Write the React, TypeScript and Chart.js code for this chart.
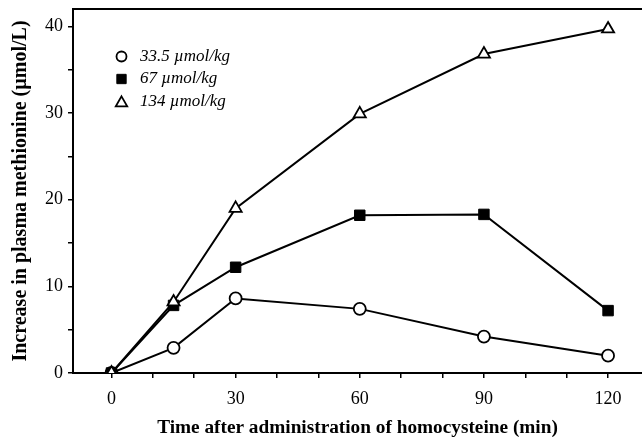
import React, { useEffect, useRef } from "react";
import { Chart, registerables } from "chart.js";
import { drawPoint } from "chart.js/helpers";

Chart.register(...registerables);

const timePoints = [0, 15, 30, 60, 90, 120];
const dose335 = [0, 2.9, 8.6, 7.4, 4.2, 2.0];
const dose67 = [0, 7.8, 12.2, 18.2, 18.3, 7.2];
const dose134 = [0, 8.2, 19.0, 29.9, 36.8, 39.7];
const seriesLabels = ["33.5 \u00b5mol/kg", "67 \u00b5mol/kg", "134 \u00b5mol/kg"];
const xTickValues = [0, 10, 20, 30, 40, 50, 60, 70, 80, 90, 100, 110, 120];
const xLabeledTicks = [0, 30, 60, 90, 120];
const yTickValues = [0, 5, 10, 15, 20, 25, 30, 35, 40];
const yLabeledTicks = [0, 10, 20, 30, 40];

const FONT = "'Liberation Serif', 'Times New Roman', serif";

const legendPlugin = {
  id: "insideLegend",
  afterDatasetsDraw(chart: any) {
    const { ctx, chartArea } = chart;
    const x0 = chartArea.left + 48.5;
    const y0 = chartArea.top + 47.5;
    const gap = 22.5;
    chart.data.datasets.forEach((ds: any, i: number) => {
      const y = y0 + i * gap;
      ctx.save();
      ctx.fillStyle = ds.pointBackgroundColor;
      ctx.strokeStyle = ds.pointBorderColor;
      ctx.lineWidth = ds.pointBorderWidth;
      const r = ds.pointStyle === "circle" ? 5 : 6.6;
      drawPoint(ctx, { pointStyle: ds.pointStyle, radius: r, rotation: 0, borderWidth: ds.pointBorderWidth }, x0, y + (ds.pointStyle === "triangle" ? 1.5 : 0));
      ctx.fillStyle = "#000";
      ctx.font = `italic 17px ${FONT}`;
      ctx.textBaseline = "middle";
      ctx.textAlign = "left";
      ctx.fillText(ds.label, x0 + 18.5, y);
      ctx.restore();
    });
  },
};

export default function App() {
  const ref = useRef<HTMLCanvasElement>(null);
  useEffect(() => {
    if (!ref.current) return;
    const mk = (values: number[]) => values.map((v, i) => ({ x: timePoints[i], y: v }));
    const chart = new Chart(ref.current, {
      type: "line",
      data: {
        datasets: [
          {
            label: seriesLabels[0],
            data: mk(dose335),
            borderColor: "#000",
            borderWidth: 2,
            pointStyle: "circle",
            pointRadius: 6,
            pointBackgroundColor: "#fff",
            pointBorderColor: "#000",
            pointBorderWidth: 1.8,
            order: 2,
          },
          {
            label: seriesLabels[1],
            data: mk(dose67),
            borderColor: "#000",
            borderWidth: 2,
            pointStyle: "rect",
            pointRadius: 7.4,
            pointBackgroundColor: "#000",
            pointBorderColor: "#000",
            pointBorderWidth: 1,
            order: 1,
          },
          {
            label: seriesLabels[2],
            data: mk(dose134),
            borderColor: "#000",
            borderWidth: 2,
            pointStyle: "triangle",
            pointRadius: 7,
            pointBackgroundColor: "#fff",
            pointBorderColor: "#000",
            pointBorderWidth: 1.8,
            order: 0,
          },
        ],
      },
      options: {
        animation: false,
        responsive: false,
        layout: { autoPadding: false, padding: { top: 9, right: 0, left: 0, bottom: 0 } },
        plugins: { legend: { display: false }, tooltip: { enabled: false } },
        elements: { line: { tension: 0 } },
        scales: {
          x: {
            type: "linear",
            min: -9.3,
            max: 128.2,
            afterBuildTicks: (s: any) => {
              s.ticks = xTickValues.map((v) => ({ value: v }));
            },
            afterFit: (s: any) => {
              s.height = 66;
              s.paddingLeft = 0;
              s.paddingRight = 0;
            },
            ticks: {
              color: "#000",
              font: { family: FONT, size: 18 },
              padding: 10,
              maxRotation: 0,
              autoSkip: false,
              callback: (v: any) => (xLabeledTicks.includes(Number(v)) ? String(v) : ""),
            },
            grid: { drawOnChartArea: false, drawTicks: true, tickLength: 5, color: "#000", lineWidth: 1.5 },
            border: { display: true, color: "#000", width: 2 },
            title: {
              display: true,
              text: "Time after administration of homocysteine (min)",
              color: "#000",
              font: { family: FONT, size: 19.3, weight: "bold" },
              padding: { top: 0, bottom: -1 },
            },
          },
          x2: {
            type: "linear",
            position: "top",
            min: 0,
            max: 1,
            afterFit: (s: any) => {
              s.height = 0;
              s.paddingLeft = 0;
              s.paddingRight = 0;
            },
            ticks: { display: false },
            grid: { drawOnChartArea: false, drawTicks: false },
            border: { display: true, color: "#000", width: 2 },
          },
          y: {
            type: "linear",
            min: 0,
            max: 42,
            afterBuildTicks: (s: any) => {
              s.ticks = yTickValues.map((v) => ({ value: v }));
            },
            afterFit: (s: any) => {
              s.width = 73;
              s.paddingTop = 0;
              s.paddingBottom = 0;
            },
            ticks: {
              color: "#000",
              font: { family: FONT, size: 18 },
              padding: 5,
              autoSkip: false,
              callback: (v: any) => (yLabeledTicks.includes(Number(v)) ? String(v) : ""),
            },
            grid: { drawOnChartArea: false, drawTicks: true, tickLength: 5, color: "#000", lineWidth: 1.5 },
            border: { display: true, color: "#000", width: 2 },
            title: {
              display: true,
              text: "Increase in plasma methionine (\u00b5mol/L)",
              color: "#000",
              font: { family: FONT, size: 20, weight: "bold" },
              padding: { top: 9, bottom: 0 },
            },
          },
        },
      },
      plugins: [legendPlugin],
    } as any);
    return () => chart.destroy();
  }, []);
  return (
    <div style={{ position: "absolute", left: 0, top: 0, width: 642, height: 439, background: "#fff" }}>
      <canvas ref={ref} width={642} height={439} style={{ display: "block" }} />
    </div>
  );
}
